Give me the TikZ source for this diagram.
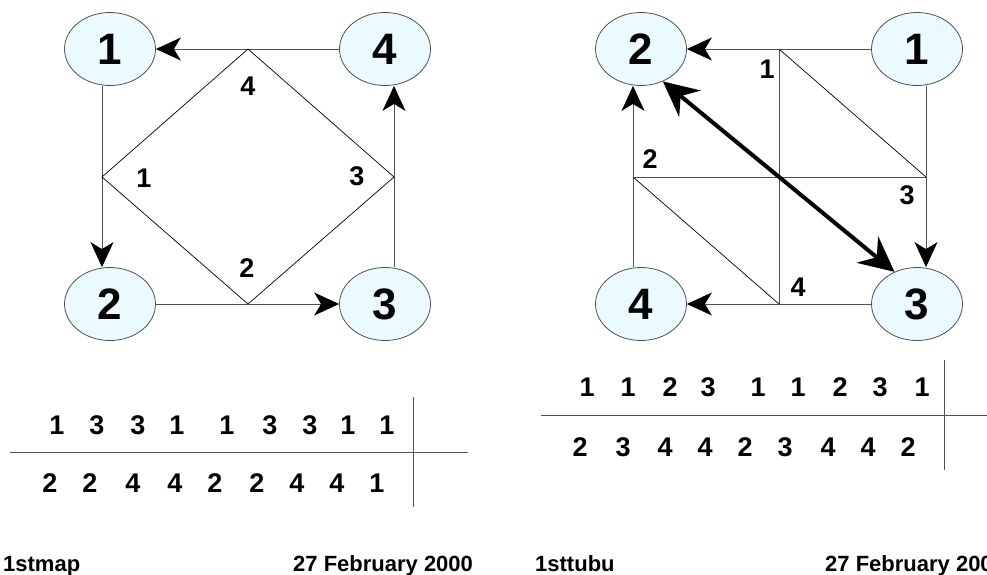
\documentclass[tikz,border=0pt]{standalone}
\usepackage{fontspec}
\setmainfont{Liberation Sans}
\usetikzlibrary{arrows.meta,shapes.geometric}
\definecolor{nodefill}{HTML}{EAFAFE}
\definecolor{edgegray}{HTML}{505050}
\tikzset{
  vertex/.style={ellipse, draw=edgegray, fill=nodefill, line width=0.8pt,
    minimum width=91pt, minimum height=73pt, inner sep=0pt,
    font=\bfseries\fontsize{44}{44}\selectfont},
  edge/.style={draw=edgegray, line width=1pt},
  tip/.style={-{Stealth[length=25pt, width=23pt, inset=7pt, color=black]}},
  bigtip/.tip={Stealth[length=35pt, width=34pt, inset=12pt]},
  fineline/.style={draw=black, line width=0.7pt},
  lab/.style={inner sep=0pt, font=\bfseries\fontsize{27}{27}\selectfont},
  digit/.style={inner sep=0pt, font=\bfseries\fontsize{27}{27}\selectfont},
  foot/.style={inner sep=0pt, anchor=base west, font=\bfseries\fontsize{22}{22}\selectfont},
  rule/.style={draw=edgegray, line width=1pt}
}
\begin{document}
\begin{tikzpicture}[x=1pt, y=-1pt]
\useasboundingbox (0,0) rectangle (987,574);

% ---------- left graph ----------
\node[vertex] (a1) at (110,49) {1};
\node[vertex] (a4) at (385,49) {4};
\node[vertex] (a2) at (110,304) {2};
\node[vertex] (a3) at (385,304) {3};

\draw[edge, tip] (a4.west) -- (a1.east);
\draw[edge, tip] ([xshift=-8pt]a1.south) -- ([xshift=-8pt]a2.north);
\draw[edge, tip] (a2.east) -- (a3.west);
\draw[edge, tip] ([xshift=9pt]a3.north) -- ([xshift=9pt]a4.south);

\coordinate (dt) at (248,49);
\coordinate (dr) at (394,177);
\coordinate (db) at (248,304);
\coordinate (dl) at (102,177);
\draw[fineline] (dt) -- (dr) -- (db) -- (dl) -- cycle;

\node[lab] (la4) at (248,86) {4};
\node[lab] (la1) at (144,178) {1};
\node[lab] (la3) at (357,176) {3};
\node[lab] (la2) at (247,268) {2};

% ---------- right graph ----------
\node[vertex] (b2) at (641,49) {2};
\node[vertex] (b1) at (917,49) {1};
\node[vertex] (b4) at (641,304) {4};
\node[vertex] (b3) at (917,304) {3};

\coordinate (gtm) at (779,49);
\coordinate (gml) at (633,177);
\coordinate (gmr) at (926,177);
\coordinate (gbm) at (779,304);
\draw[edge] (gtm) -- (gbm);
\draw[edge] (gml) -- (gmr);
\draw[fineline] (gtm) -- (gmr);
\draw[fineline] (gml) -- (gbm);

\draw[edge, tip] (b1.west) -- (b2.east);
\draw[edge, tip] ([xshift=9pt]b1.south) -- ([xshift=9pt]b3.north);
\draw[edge, tip] (b3.west) -- (b4.east);
\draw[edge, tip] ([xshift=-8pt]b4.north) -- ([xshift=-8pt]b2.south);

\draw[line width=4pt, bigtip-bigtip] (b2.-56) -- (b3.125);

\node[lab] (lb1) at (767,69) {1};
\node[lab] (lb2) at (650,159) {2};
\node[lab] (lb3) at (907,195) {3};
\node[lab] (lb4) at (798,287) {4};

% ---------- left table ----------
\coordinate (lh1) at (10,452);
\coordinate (lh2) at (468,452);
\coordinate (lv1) at (413,397);
\coordinate (lv2) at (413,507);
\draw[rule] (lh1) -- (lh2);
\draw[rule] (lv1) -- (lv2);
\foreach \x/\d [count=\i] in {57/1,97/3,138/3,177/1,227/1,270/3,310/3,348/1,387/1}
  \node[digit] (lt\i) at (\x,425) {\d};
\foreach \x/\d [count=\i] in {50/2,90/2,133/4,175/4,215/2,257/2,297/4,337/4,377/1}
  \node[digit] (lu\i) at (\x,483) {\d};

% ---------- right table ----------
\coordinate (rh1) at (541,415);
\coordinate (rh2) at (987,415);
\coordinate (rv1) at (944,360);
\coordinate (rv2) at (944,470);
\draw[rule] (rh1) -- (rh2);
\draw[rule] (rv1) -- (rv2);
\foreach \x/\d [count=\i] in {587/1,628/1,670/2,708/3,758/1,798/1,840/2,880/3,922/1}
  \node[digit] (rt\i) at (\x,387) {\d};
\foreach \x/\d [count=\i] in {580/2,623/3,665/4,705/4,745/2,785/3,828/4,868/4,908/2}
  \node[digit] (ru\i) at (\x,447) {\d};

% ---------- footers ----------
\node[foot] (f1) at (3,571) {1stmap};
\node[foot] (f2) at (293,571) {27 February 2000};
\node[foot] (f3) at (535,571) {1sttubu};
\node[foot] (f4) at (825,571) {27 February 2000};
\end{tikzpicture}
\end{document}
